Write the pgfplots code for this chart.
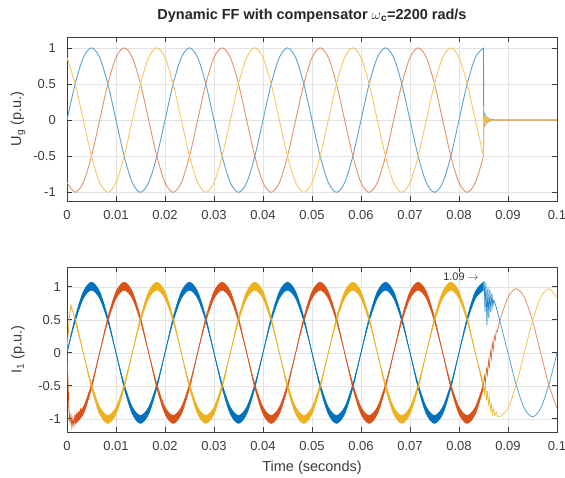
\documentclass[border=0pt]{standalone}
\usepackage{fontspec}
\setmainfont{Liberation Sans}
\usepackage{pgfplots}
\pgfplotsset{compat=1.18}
\usepackage{pgfplotstable}
\usepgfplotslibrary{fillbetween}

\definecolor{mblue}{RGB}{0,114,189}
\definecolor{mred}{RGB}{217,83,25}
\definecolor{myel}{RGB}{237,177,32}
\definecolor{axgray}{RGB}{60,60,60}

% grid voltage, 3 phases, read every 1/12 period
\pgfplotstableread{
t a b c
0 0 -0.866 0.866
0.001667 0.5 -1 0.5
0.003333 0.866 -0.866 0
0.005 1 -0.5 -0.5
0.006667 0.866 0 -0.866
0.008333 0.5 0.5 -1
0.01 0 0.866 -0.866
0.011667 -0.5 1 -0.5
0.013333 -0.866 0.866 0
0.015 -1 0.5 0.5
0.016667 -0.866 0 0.866
0.018333 -0.5 -0.5 1
0.02 0 -0.866 0.866
0.021667 0.5 -1 0.5
0.023333 0.866 -0.866 0
0.025 1 -0.5 -0.5
0.026667 0.866 0 -0.866
0.028333 0.5 0.5 -1
0.03 0 0.866 -0.866
0.031667 -0.5 1 -0.5
0.033333 -0.866 0.866 0
0.035 -1 0.5 0.5
0.036667 -0.866 0 0.866
0.038333 -0.5 -0.5 1
0.04 0 -0.866 0.866
0.041667 0.5 -1 0.5
0.043333 0.866 -0.866 0
0.045 1 -0.5 -0.5
0.046667 0.866 0 -0.866
0.048333 0.5 0.5 -1
0.05 0 0.866 -0.866
0.051667 -0.5 1 -0.5
0.053333 -0.866 0.866 0
0.055 -1 0.5 0.5
0.056667 -0.866 0 0.866
0.058333 -0.5 -0.5 1
0.06 0 -0.866 0.866
0.061667 0.5 -1 0.5
0.063333 0.866 -0.866 0
0.065 1 -0.5 -0.5
0.066667 0.866 0 -0.866
0.068333 0.5 0.5 -1
0.07 0 0.866 -0.866
0.071667 -0.5 1 -0.5
0.073333 -0.866 0.866 0
0.075 -1 0.5 0.5
0.076667 -0.866 0 0.866
0.078333 -0.5 -0.5 1
0.08 0 -0.866 0.866
0.081667 0.5 -1 0.5
0.083333 0.866 -0.866 0
0.085 1 -0.5 -0.5
}\ugrid

% current band: outer (O) and inner (I) edge of the ripple
\pgfplotstableread{
t aO aI bO bI cO cI
0 0 0 -0.927 -0.823 0.927 0.823
0.001667 0.535 0.475 -1.07 -0.95 0.535 0.475
0.003333 0.927 0.823 -0.927 -0.823 0 0
0.005 1.07 0.95 -0.535 -0.475 -0.535 -0.475
0.006667 0.927 0.823 0 0 -0.927 -0.823
0.008333 0.535 0.475 0.535 0.475 -1.07 -0.95
0.01 0 0 0.927 0.823 -0.927 -0.823
0.011667 -0.535 -0.475 1.07 0.95 -0.535 -0.475
0.013333 -0.927 -0.823 0.927 0.823 0 0
0.015 -1.07 -0.95 0.535 0.475 0.535 0.475
0.016667 -0.927 -0.823 0 0 0.927 0.823
0.018333 -0.535 -0.475 -0.535 -0.475 1.07 0.95
0.02 0 0 -0.927 -0.823 0.927 0.823
0.021667 0.535 0.475 -1.07 -0.95 0.535 0.475
0.023333 0.927 0.823 -0.927 -0.823 0 0
0.025 1.07 0.95 -0.535 -0.475 -0.535 -0.475
0.026667 0.927 0.823 0 0 -0.927 -0.823
0.028333 0.535 0.475 0.535 0.475 -1.07 -0.95
0.03 0 0 0.927 0.823 -0.927 -0.823
0.031667 -0.535 -0.475 1.07 0.95 -0.535 -0.475
0.033333 -0.927 -0.823 0.927 0.823 0 0
0.035 -1.07 -0.95 0.535 0.475 0.535 0.475
0.036667 -0.927 -0.823 0 0 0.927 0.823
0.038333 -0.535 -0.475 -0.535 -0.475 1.07 0.95
0.04 0 0 -0.927 -0.823 0.927 0.823
0.041667 0.535 0.475 -1.07 -0.95 0.535 0.475
0.043333 0.927 0.823 -0.927 -0.823 0 0
0.045 1.07 0.95 -0.535 -0.475 -0.535 -0.475
0.046667 0.927 0.823 0 0 -0.927 -0.823
0.048333 0.535 0.475 0.535 0.475 -1.07 -0.95
0.05 0 0 0.927 0.823 -0.927 -0.823
0.051667 -0.535 -0.475 1.07 0.95 -0.535 -0.475
0.053333 -0.927 -0.823 0.927 0.823 0 0
0.055 -1.07 -0.95 0.535 0.475 0.535 0.475
0.056667 -0.927 -0.823 0 0 0.927 0.823
0.058333 -0.535 -0.475 -0.535 -0.475 1.07 0.95
0.06 0 0 -0.927 -0.823 0.927 0.823
0.061667 0.535 0.475 -1.07 -0.95 0.535 0.475
0.063333 0.927 0.823 -0.927 -0.823 0 0
0.065 1.07 0.95 -0.535 -0.475 -0.535 -0.475
0.066667 0.927 0.823 0 0 -0.927 -0.823
0.068333 0.535 0.475 0.535 0.475 -1.07 -0.95
0.07 0 0 0.927 0.823 -0.927 -0.823
0.071667 -0.535 -0.475 1.07 0.95 -0.535 -0.475
0.073333 -0.927 -0.823 0.927 0.823 0 0
0.075 -1.07 -0.95 0.535 0.475 0.535 0.475
0.076667 -0.927 -0.823 0 0 0.927 0.823
0.078333 -0.535 -0.475 -0.535 -0.475 1.07 0.95
0.08 0 0 -0.927 -0.823 0.927 0.823
0.081667 0.535 0.475 -1.07 -0.95 0.535 0.475
0.083333 0.927 0.823 -0.927 -0.823 0 0
0.085 1.07 0.95 -0.535 -0.475 -0.535 -0.475
}\ione

\pgfplotsset{
  matax/.style={
    scale only axis, width=490pt,
    xmin=0, xmax=0.1,
    xtick={0,0.01,0.02,0.03,0.04,0.05,0.06,0.07,0.08,0.09,0.1},
    xticklabels={0,0.01,0.02,0.03,0.04,0.05,0.06,0.07,0.08,0.09,0.1},
    ytick={-1,-0.5,0,0.5,1},
    yticklabels={-1,-0.5,0,0.5,1},
    grid=major, major grid style={gray!22, line width=0.5pt},
    axis line style={axgray, line width=0.6pt},
    tick style={axgray, line width=0.6pt}, major tick length=5pt,
    tick label style={font=\fontsize{13}{15}\selectfont, text=axgray},
    xticklabel style={anchor=base, yshift=-18.7pt},
    label style={font=\fontsize{14.5}{16}\selectfont, text=axgray},
    ylabel style={at={(axis description cs:-0.1,0.5)}, anchor=center},
  }
}

\begin{document}
\begin{tikzpicture}
\begin{axis}[matax, at={(67pt,277pt)}, anchor=south west, height=164pt,
  ymin=-1.12, ymax=1.15,
  yticklabel style={anchor=east, inner sep=0pt, xshift=-11pt},
  ylabel={U\textsubscript{g} (p.u.)},
  title={Dynamic FF with compensator {\mdseries$\omega$}\textsubscript{c}=2200 rad/s},
  title style={font=\fontsize{14.5}{16}\selectfont\bfseries, text=black!85,
    at={(axis description cs:0.5,1.07)}, anchor=base},
]
\addplot[mblue!65, line width=0.9pt, smooth] table[x=t,y=a]{\ugrid};
\addplot[mred!65, line width=0.9pt, smooth] table[x=t,y=b]{\ugrid};
\addplot[myel!70, line width=0.9pt, smooth] table[x=t,y=c]{\ugrid};
% voltage dip at 0.085 s
\addplot[mblue!70, line width=0.9pt] coordinates {(0.085,1) (0.08505,0) (0.0852,0.06) (0.0853,-0.05) (0.0854,0.05) (0.0855,-0.04) (0.0857,0.03) (0.0859,-0.025) (0.0861,0.02) (0.0864,-0.012) (0.0868,0.006) (0.0873,0) (0.1,0)};
\addplot[mred!70, line width=0.9pt] coordinates {(0.085,-0.5) (0.08505,0) (0.0852,-0.05) (0.0853,0.06) (0.0854,-0.04) (0.0855,0.05) (0.0857,-0.03) (0.0859,0.025) (0.0861,-0.02) (0.0864,0.01) (0.0868,-0.005) (0.0873,0) (0.1,0)};
\addplot[myel!80, line width=0.9pt] coordinates {(0.085,-0.5) (0.08505,0) (0.0852,0.04) (0.0853,-0.06) (0.0854,0.05) (0.0855,-0.03) (0.0857,0.04) (0.0859,-0.02) (0.0861,0.015) (0.0864,-0.01) (0.0873,0) (0.1,0)};
\end{axis}

\begin{axis}[matax, at={(67pt,46pt)}, anchor=south west, height=165pt,
  ymin=-1.2, ymax=1.3,
  yticklabel style={anchor=east, inner sep=0pt, xshift=-6pt},
  ylabel={I\textsubscript{1} (p.u.)},
  xlabel={Time (seconds)},
  xlabel style={at={(axis description cs:0.5,-0.242)}, anchor=base},
]
% ripple bands
\addplot[mblue, line width=0.6pt, smooth, name path=aO] table[x=t,y=aO]{\ione};
\addplot[mblue, line width=0.6pt, smooth, name path=aI] table[x=t,y=aI]{\ione};
\addplot[mblue] fill between[of=aO and aI];
\addplot[mred, line width=0.6pt, smooth, name path=bO, restrict x to domain=0.0016:0.1] table[x=t,y=bO]{\ione};
\addplot[mred, line width=0.6pt, smooth, name path=bI, restrict x to domain=0.0016:0.1] table[x=t,y=bI]{\ione};
\addplot[mred] fill between[of=bO and bI];
\addplot[myel, line width=0.6pt, smooth, name path=cO, restrict x to domain=0.0016:0.1] table[x=t,y=cO]{\ione};
\addplot[myel, line width=0.6pt, smooth, name path=cI, restrict x to domain=0.0016:0.1] table[x=t,y=cI]{\ione};
\addplot[myel] fill between[of=cO and cI];
% start-up transients
\addplot[mred, line width=0.8pt] coordinates {(0,0) (0.0002,-0.45) (0.0004,-0.85) (0.0006,-1.05) (0.0008,-0.95) (0.001,-1.12) (0.0012,-1.0) (0.0014,-1.1) (0.0016,-0.97) (0.0018,-1.06) (0.002,-0.93) (0.0022,-1.02) (0.0024,-0.9) (0.0026,-0.95) (0.0028,-0.85) (0.003,-0.88)};
\addplot[myel, line width=0.8pt] coordinates {(0,0.05) (0.0003,0.35) (0.0006,0.62) (0.0008,0.72) (0.001,0.66) (0.0013,0.6) (0.001667,0.5)};
% fault transients
\addplot[mblue!85, line width=0.7pt] coordinates {(0.085,1.0) (0.08515,1.09) (0.0853,0.62) (0.0855,1.06) (0.0857,0.42) (0.0859,1.0) (0.0861,0.52) (0.0863,0.96) (0.0865,0.62) (0.0867,0.9) (0.0869,0.7) (0.0871,0.8) (0.0874,0.74) (0.0877,0.66) (0.08833,0.485)};
\addplot[mred!85, line width=0.7pt] coordinates {(0.085,-0.5) (0.0852,-0.35) (0.0854,-0.45) (0.0856,-0.22) (0.0858,-0.33) (0.086,-0.12) (0.0862,-0.22) (0.0864,0.02) (0.0866,-0.08) (0.0868,0.15) (0.087,0.05) (0.0872,0.25) (0.0874,0.2) (0.0876,0.33) (0.0878,0.32) (0.08833,0.485)};
\addplot[myel!90, line width=0.7pt] coordinates {(0.085,-0.5) (0.0852,-0.62) (0.0854,-0.45) (0.0856,-0.72) (0.0858,-0.58) (0.086,-0.8) (0.0862,-0.68) (0.0864,-0.87) (0.0866,-0.78) (0.0868,-0.93) (0.087,-0.85) (0.0873,-0.95) (0.0876,-0.9) (0.0879,-0.97) (0.08833,-0.97)};
% after the fault
\addplot[mblue!65, line width=0.8pt, smooth] coordinates {(0.08833,0.485) (0.09,0) (0.091667,-0.485) (0.093333,-0.84) (0.095,-0.97) (0.096667,-0.84) (0.098333,-0.485) (0.1,0)};
\addplot[mred!65, line width=0.8pt, smooth] coordinates {(0.08833,0.485) (0.09,0.84) (0.091667,0.97) (0.093333,0.84) (0.095,0.485) (0.096667,0) (0.098333,-0.485) (0.1,-0.84)};
\addplot[myel!75, line width=0.8pt, smooth] coordinates {(0.08833,-0.97) (0.09,-0.84) (0.091667,-0.485) (0.093333,0) (0.095,0.485) (0.096667,0.84) (0.098333,0.97) (0.1,0.84)};
\node[font=\fontsize{11}{13}\selectfont, text=black!80] at (axis cs:0.0804,1.15) {1.09 $\rightarrow$};
\end{axis}
\pgfresetboundingbox
\useasboundingbox (0pt,0pt) rectangle (565pt,478pt);
\end{tikzpicture}
\end{document}
